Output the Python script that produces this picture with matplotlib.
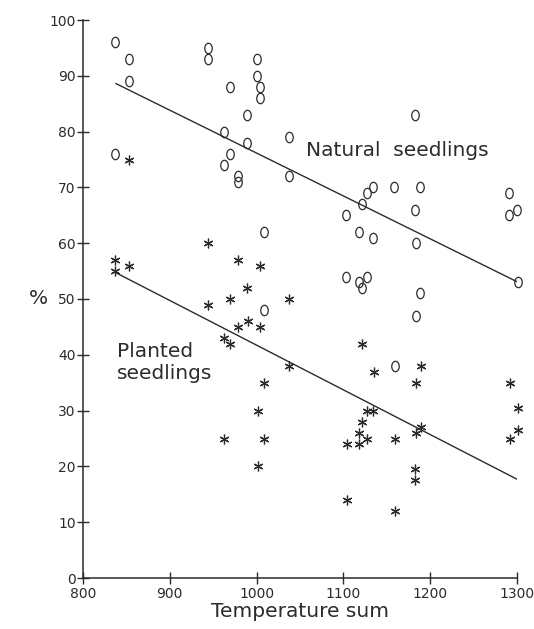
import matplotlib
matplotlib.use("Agg")
import matplotlib.pyplot as plt
from matplotlib.path import Path
from matplotlib.transforms import Affine2D
import numpy as np

# values
natural_x = [837, 853, 853, 837, 944, 944, 969, 1001, 1001, 1004, 1004, 989, 963,
             989, 969, 963, 978, 978, 1037, 1037, 1008, 1008,
             1182, 1134, 1127, 1158, 1188, 1122, 1103, 1182, 1118, 1134, 1184,
             1103, 1118, 1122, 1127, 1188, 1184, 1291, 1300, 1291, 1301, 1159]
natural_y = [96, 93, 89, 76, 95, 93, 88, 93, 90, 88, 86, 83, 80,
             78, 76, 74, 72, 71, 79, 72, 62, 48,
             83, 70, 69, 70, 70, 67, 65, 66, 62, 61, 60,
             54, 53, 52, 54, 51, 47, 69, 66, 65, 53, 38]

planted_x = [853, 837, 837, 853, 944, 944, 969, 978, 989, 1004, 1037,
             979, 990, 1004, 963, 969, 1037, 1009, 1002, 963, 1009, 1002,
             1122, 1135, 1189, 1184, 1127, 1134, 1122, 1118, 1127, 1118, 1104,
             1159, 1189, 1184, 1182, 1182, 1104, 1159, 1292, 1301, 1301, 1292]
planted_y = [75, 57, 55, 56, 60, 49, 50, 57, 52, 56, 50,
             45, 46, 45, 43, 42, 38, 35, 30, 25, 25, 20,
             42, 37, 38, 35, 30, 30, 28, 26, 25, 24, 24,
             25, 27, 26, 19.5, 17.5, 14, 12, 35, 30.5, 26.5, 25]

# regression lines as drawn (end points)
fit_x = [838, 1300]
natural_fit = [88.6, 53.1]
planted_fit = [54.7, 17.7]

x_ticks = [800, 900, 1000, 1100, 1200, 1300]
y_ticks = list(range(0, 101, 10))

ink = "#2b2b2b"
plt.rcParams["font.family"] = ["DejaVu Sans"]

# tall oval like a plotter "0"
oval = Path.unit_circle().transformed(Affine2D().scale(0.72, 1.0))

fig = plt.figure(figsize=(5.34, 6.29), dpi=100)
ax = fig.add_axes([83 / 534, 51 / 629, 434 / 534, 558 / 629])

ax.plot(natural_x, natural_y, linestyle="none", marker=oval, markersize=7.5,
        markerfacecolor="none", markeredgecolor=ink, markeredgewidth=0.9,
        clip_on=False)
ax.plot(planted_x, planted_y, linestyle="none", marker=(6, 2, 0), markersize=7,
        color=ink, markeredgewidth=0.9, clip_on=False)
ax.plot(fit_x, natural_fit, color=ink, lw=1.0)
ax.plot(fit_x, planted_fit, color=ink, lw=1.0)

ax.text(1057, 76.7, "Natural  seedlings", fontsize=14.5, color=ink,
        va="center", ha="left")
ax.text(839, 38.6, "Planted\nseedlings", fontsize=14.5, color=ink,
        va="center", ha="left", linespacing=1.2)

ax.set_xlim(800, 1300)
ax.set_ylim(0, 100)
ax.set_xticks(x_ticks)
ax.set_yticks(y_ticks)
ax.tick_params(direction="inout", length=8.5, width=1.0, colors=ink,
               labelsize=10)
ax.tick_params(axis="y", pad=1)
ax.tick_params(axis="x", pad=2)
for side in ("top", "right"):
    ax.spines[side].set_visible(False)
for side in ("left", "bottom"):
    ax.spines[side].set_color(ink)
    ax.spines[side].set_linewidth(1.1)

ax.set_xlabel("Temperature sum", fontsize=14.5, color=ink, labelpad=1)
ax.set_ylabel("%", fontsize=14.5, color=ink, rotation=0, labelpad=8,
              va="center")

fig.savefig("out.png", dpi=100)
